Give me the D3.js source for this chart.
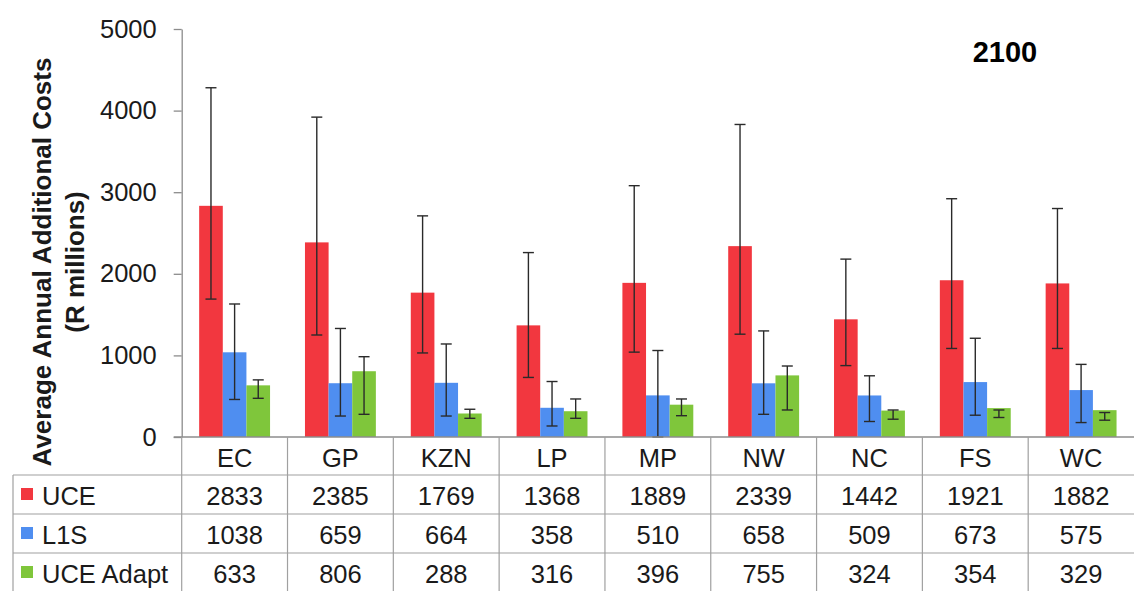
<!DOCTYPE html>
<html>
<head>
<meta charset="utf-8">
<script src="https://cdn.jsdelivr.net/npm/d3@7"></script>
<style>
  html, body { margin: 0; padding: 0; background: #fff; }
  svg { display: block; font-family: "Liberation Sans", Arial, sans-serif; }
</style>
</head>
<body>
<svg id="chart" width="1137" height="596"></svg>
<script>
// ---- data ----
const categories = ["EC", "GP", "KZN", "LP", "MP", "NW", "NC", "FS", "WC"];
const seriesNames = ["UCE", "L1S", "UCE Adapt"];
const uceValues   = [2833, 2385, 1769, 1368, 1889, 2339, 1442, 1921, 1882];
const l1sValues   = [1038, 659, 664, 358, 510, 658, 509, 673, 575];
const adaptValues = [633, 806, 288, 316, 396, 755, 324, 354, 329];
// error bar ends (upper / lower)
const uceHigh   = [4280, 3920, 2710, 2260, 3080, 3830, 2180, 2920, 2800];
const uceLow    = [1690, 1250, 1030, 730, 1040, 1260, 875, 1085, 1085];
const l1sHigh   = [1630, 1330, 1140, 680, 1060, 1300, 750, 1210, 890];
const l1sLow    = [460, 257, 257, 135, 0, 278, 190, 267, 177];
const adaptHigh = [700, 984, 340, 466, 466, 870, 331, 331, 300];
const adaptLow  = [474, 278, 229, 229, 261, 331, 218, 239, 206];
const yTicks = [0, 1000, 2000, 3000, 4000, 5000];
const chartTitle = "2100";
const yTitle1 = "Average Annual Additional Costs";
const yTitle2 = "(R millions)";
const colors = ["#f2373f", "#4f8ef0", "#7fc63b"];

const series = [
  { name: seriesNames[0], values: uceValues, hi: uceHigh, lo: uceLow },
  { name: seriesNames[1], values: l1sValues, hi: l1sHigh, lo: l1sLow },
  { name: seriesNames[2], values: adaptValues, hi: adaptHigh, lo: adaptLow }
];

// ---- layout ----
const svg = d3.select("#chart");
const axisX = 181.7, plotRight = 1134, plotTop = 29, plotBottom = 437;
const x = d3.scaleBand().domain(categories).range([axisX, plotRight]).padding(0);
const bw = x.bandwidth();
const x1 = d3.scaleBand().domain(seriesNames).range([bw * 0.165, bw * 0.835]).padding(0);
const y = d3.scaleLinear().domain([0, 5000]).range([plotBottom, plotTop]);
const textColor = "#1a1a1a";
const gridColor = "#a0a0a0";
const tableFont = "25.5px";

// bars
const groups = svg.append("g").selectAll("g")
  .data(categories).join("g")
  .attr("transform", d => `translate(${x(d)},0)`);

series.forEach((s, si) => {
  groups.append("rect")
    .attr("x", (d, i) => x1(s.name))
    .attr("y", (d, i) => y(s.values[i]))
    .attr("width", x1.bandwidth())
    .attr("height", (d, i) => y(0) - y(s.values[i]))
    .attr("fill", colors[si]);
});

// error bars
series.forEach((s, si) => {
  const cx = x1(s.name) + x1.bandwidth() / 2;
  const cap = 5.5;
  const eb = groups.append("g").attr("stroke", "#2a2a2a").attr("stroke-width", 1.4).attr("fill", "none");
  eb.append("line")
    .attr("x1", cx).attr("x2", cx)
    .attr("y1", (d, i) => y(s.hi[i])).attr("y2", (d, i) => y(s.lo[i]));
  eb.append("line")
    .attr("x1", cx - cap).attr("x2", cx + cap)
    .attr("y1", (d, i) => y(s.hi[i])).attr("y2", (d, i) => y(s.hi[i]));
  eb.append("line")
    .attr("x1", cx - cap).attr("x2", cx + cap)
    .attr("y1", (d, i) => y(s.lo[i])).attr("y2", (d, i) => y(s.lo[i]));
});

// y axis
const yAxis = svg.append("g")
  .attr("transform", `translate(${axisX},0)`)
  .call(d3.axisLeft(y).tickValues(yTicks).tickSize(8).tickSizeOuter(0).tickPadding(17).tickFormat(d3.format("d")));
yAxis.select(".domain").attr("stroke", "#8c8c8c").attr("stroke-width", 1.3);
yAxis.selectAll(".tick line").attr("stroke", "#8c8c8c").attr("stroke-width", 1.3);
yAxis.selectAll(".tick text")
  .attr("fill", textColor)
  .style("font-size", "25.5px")
  .style("font-family", "'Liberation Sans', Arial, sans-serif");

// y axis title
svg.append("text")
  .attr("transform", "translate(51,262) rotate(-90)")
  .attr("text-anchor", "middle")
  .attr("fill", textColor)
  .style("font-size", "26px").style("font-weight", "bold")
  .text(yTitle1);
svg.append("text")
  .attr("transform", "translate(84,262) rotate(-90)")
  .attr("text-anchor", "middle")
  .attr("fill", textColor)
  .style("font-size", "26px").style("font-weight", "bold")
  .text(yTitle2);

// chart title
svg.append("text")
  .attr("x", 1005).attr("y", 62)
  .attr("text-anchor", "middle")
  .attr("fill", "#000")
  .style("font-size", "29px").style("font-weight", "bold")
  .text(chartTitle);

// ---- data table ----
const rowTops = [437, 475, 514, 553];
const tableLeft = 13, tableBottom = 591;
const tbl = svg.append("g");

// horizontal lines
tbl.append("line").attr("x1", axisX - 8).attr("x2", plotRight).attr("y1", plotBottom).attr("y2", plotBottom)
  .attr("stroke", "#8c8c8c").attr("stroke-width", 1.3);
rowTops.slice(1).forEach(t => {
  tbl.append("line").attr("x1", tableLeft).attr("x2", plotRight).attr("y1", t).attr("y2", t)
    .attr("stroke", gridColor).attr("stroke-width", 1.2);
});
// vertical lines
tbl.append("line").attr("x1", tableLeft).attr("x2", tableLeft).attr("y1", rowTops[1]).attr("y2", tableBottom)
  .attr("stroke", gridColor).attr("stroke-width", 1.2);
categories.forEach(c => {
  tbl.append("line").attr("x1", x(c)).attr("x2", x(c)).attr("y1", plotBottom).attr("y2", tableBottom)
    .attr("stroke", gridColor).attr("stroke-width", 1.2);
});

// category labels
tbl.selectAll("text.cat").data(categories).join("text")
  .attr("class", "cat")
  .attr("x", d => x(d) + bw / 2).attr("y", 467)
  .attr("text-anchor", "middle").attr("fill", textColor)
  .style("font-size", tableFont)
  .text(d => d);

// series rows
const baselines = [505, 544, 583];
series.forEach((s, si) => {
  tbl.append("rect")
    .attr("x", 21).attr("y", baselines[si] - 17)
    .attr("width", 12).attr("height", 12)
    .attr("fill", colors[si]);
  tbl.append("text")
    .attr("x", 42).attr("y", baselines[si])
    .attr("fill", textColor)
    .style("font-size", tableFont)
    .text(s.name);
  tbl.selectAll(null).data(categories).join("text")
    .attr("x", d => x(d) + bw / 2).attr("y", baselines[si])
    .attr("text-anchor", "middle").attr("fill", textColor)
    .style("font-size", tableFont)
    .text((d, i) => s.values[i]);
});
</script>
</body>
</html>
